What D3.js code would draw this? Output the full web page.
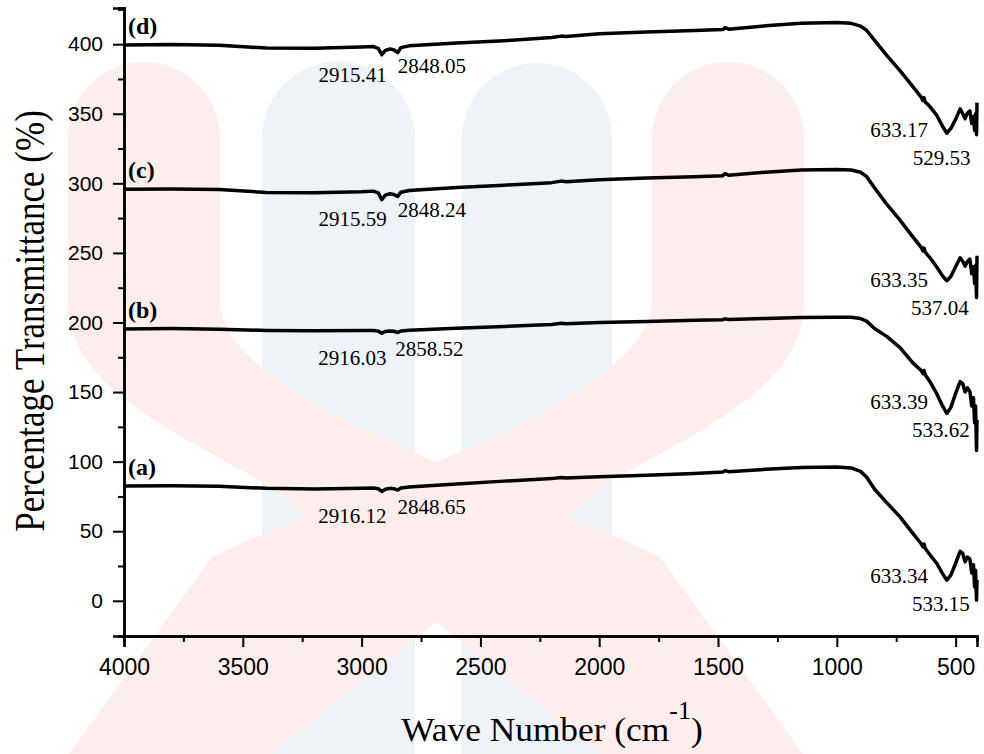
<!DOCTYPE html>
<html>
<head>
<meta charset="utf-8">
<script src="https://cdn.jsdelivr.net/npm/d3@7/dist/d3.min.js"></script>
<style>
  html, body { margin: 0; padding: 0; background: #fff; }
  svg { display: block; }
</style>
</head>
<body>
<script>
// wave numbers (cm-1) shared by all four spectra
let wavenumbers = [4000, 3800, 3600, 3400, 3200, 3000, 2950, 2930, 2915, 2900, 2880, 2865, 2848, 2835, 2800,
  2600, 2400, 2200, 2160, 2140, 2000, 1800, 1600, 1480, 1470, 1455, 1300, 1150, 1000, 940, 900, 875, 840,
  790, 734, 680, 645, 637, 633, 628, 610, 580, 555, 537, 520, 500, 481, 470, 460, 450, 440, 432, 425, 420,
  416, 412, 410];

let series_a = [82.5, 82.7, 82.3, 80.8, 80.4, 80.8, 81.0, 80.5, 78.6, 80.2, 80.8, 80.6, 79.6, 81.0, 81.8,
  84.0, 86.0, 87.8, 88.6, 88.3, 89.2, 90.3, 91.5, 92.5, 93.5, 92.8, 94.5, 95.8, 96.2, 95.5, 93.0, 89.0, 80.0,
  70.5, 60.3, 48.5, 41.0, 38.7, 40.8, 37.8, 33.5, 27.0, 19.5, 14.8, 18.5, 27.0, 35.5, 34.0, 28.0, 31.5, 30.0,
  20.0, 26.0, 10.0, 22.0, 0.5, 15.0];

let series_b = [195.4, 195.6, 195.2, 194.3, 194.0, 194.2, 194.3, 193.8, 192.3, 193.6, 193.9, 193.7, 192.8,
  193.9, 194.5, 195.9, 197.2, 198.6, 199.4, 199.1, 200.0, 200.7, 201.6, 202.0, 202.6, 202.1, 202.9, 203.5,
  203.8, 203.7, 202.8, 201.0, 195.5, 190.0, 182.0, 171.0, 165.5, 163.3, 165.5, 162.5, 158.0, 149.0, 140.0,
  134.6, 139.0, 149.0, 157.5, 156.0, 150.0, 153.0, 150.5, 140.0, 146.0, 128.0, 140.0, 108.0, 130.0];

let series_c = [295.8, 296.0, 295.5, 293.5, 293.2, 294.0, 294.4, 293.2, 288.3, 291.5, 292.5, 292.0, 290.5,
  293.6, 294.8, 297.0, 298.7, 300.5, 301.6, 301.2, 302.5, 303.8, 304.8, 305.5, 307.0, 305.8, 308.0, 309.5,
  310.0, 309.6, 308.0, 305.0, 296.5, 285.0, 273.5, 261.5, 254.0, 251.5, 253.5, 250.5, 247.0, 240.0, 233.5,
  230.0, 233.0, 240.0, 246.5, 244.0, 240.5, 244.0, 245.5, 235.0, 240.0, 228.0, 241.0, 218.0, 248.0];

let series_d = [399.5, 399.8, 399.2, 397.2, 397.0, 398.0, 398.3, 397.0, 392.5, 395.5, 396.5, 396.0, 394.0,
  397.5, 398.8, 400.8, 402.5, 404.8, 405.8, 405.5, 407.5, 408.8, 409.8, 410.5, 412.0, 410.8, 413.2, 415.0,
  415.6, 415.0, 413.0, 410.0, 402.5, 392.0, 381.0, 369.5, 362.0, 359.5, 361.5, 358.5, 355.5, 349.0, 341.0,
  336.0, 339.5, 346.0, 353.5, 350.0, 346.5, 350.5, 352.0, 343.0, 348.0, 338.0, 350.0, 335.0, 358.0];

let curve_names = ["(a)", "(b)", "(c)", "(d)"];
let peak_labels = [
  ["2916.12", "2848.65", "633.34", "533.15"],
  ["2916.03", "2858.52", "633.39", "533.62"],
  ["2915.59", "2848.24", "633.35", "537.04"],
  ["2915.41", "2848.05", "633.17", "529.53"]
];

let x_ticks = [4000, 3500, 3000, 2500, 2000, 1500, 1000, 500];
let x_minor = [3750, 3250, 2750, 2250, 1750, 1250, 750];
let y_ticks = [0, 50, 100, 150, 200, 250, 300, 350, 400];
let y_minor = [-25, 25, 75, 125, 175, 225, 275, 325, 375, 425];

let width = 984;
let height = 754;
let all_series = [series_a, series_b, series_c, series_d];

let xscale = d3.scaleLinear().domain([4000, 410]).range([124, 977]);
let yscale = d3.scaleLinear().domain([-25.3, 426]).range([636, 8]);

let svg = d3.select("body").append("svg").attr("width", width).attr("height", height);

// faint watermark behind the chart
let wm = svg.append("g");
let blue = "#eef3f8", pink = "#fdeeee";
wm.append("path").attr("fill", blue)
  .attr("d", "M262,754 L262,138 A76.5,76.5 0 0 1 415,138 L415,754 Z");
wm.append("path").attr("fill", blue)
  .attr("d", "M462,754 L462,138 A75,75 0 0 1 612,138 L612,754 Z");
wm.append("path").attr("fill", pink)
  .attr("d", "M68,138 A76,76 0 0 1 220,138 L220,300 C220,400 500,480 660,557 L803,754 L600,754 L260,480 C150,420 68,380 68,300 Z");
wm.append("path").attr("fill", pink)
  .attr("d", "M804,138 A76,76 0 0 0 652,138 L652,300 C652,400 372,480 212,557 L69,754 L272,754 L612,480 C722,420 804,380 804,300 Z");

// axes
let y_axis = svg.append("g").attr("transform", "translate(124,0)")
  .call(d3.axisLeft(yscale).tickValues(y_ticks).tickSize(11).tickPadding(10).tickFormat(d3.format("d")));
svg.append("g").attr("transform", "translate(124,0)")
  .call(d3.axisLeft(yscale).tickValues(y_minor).tickSize(6).tickFormat(""));

let x_axis = svg.append("g").attr("transform", "translate(0,636)")
  .call(d3.axisBottom(xscale).tickValues(x_ticks).tickSize(11).tickPadding(12).tickFormat(d3.format("d")));
svg.append("g").attr("transform", "translate(0,636)")
  .call(d3.axisBottom(xscale).tickValues(x_minor).tickSize(6).tickFormat(""));

svg.selectAll(".domain").attr("stroke", "#000").attr("stroke-width", 2.5);
svg.selectAll(".tick line").attr("stroke", "#000").attr("stroke-width", 2);
y_axis.selectAll("text").attr("font-family", "'Liberation Sans', Arial, sans-serif").attr("font-size", 21).attr("fill", "#000");
x_axis.selectAll("text").attr("font-family", "'Liberation Sans', Arial, sans-serif").attr("font-size", 23).attr("fill", "#000");

// axis titles
let serif = "'Liberation Serif', 'Times New Roman', serif";
svg.append("text")
  .attr("transform", "translate(44,321) scale(1.2,1) rotate(-90)")
  .attr("text-anchor", "middle")
  .attr("font-family", serif)
  .attr("font-size", 35)
  .text("Percentage Transmittance (%)");

let xt = svg.append("text")
  .attr("transform", "translate(552,741) scale(1.04,1)")
  .attr("text-anchor", "middle")
  .attr("font-family", serif)
  .attr("font-size", 34);
xt.append("tspan").text("Wave Number (cm");
xt.append("tspan").attr("font-size", 25).attr("dy", -22).text("-1");
xt.append("tspan").attr("dy", 22).text(")");

// spectra
let line = d3.line()
  .x((d, i) => xscale(wavenumbers[i]))
  .y((d) => yscale(d));

svg.selectAll("path.spectrum").data(all_series).enter().append("path")
  .attr("class", "spectrum")
  .attr("d", (d) => line(d))
  .attr("fill", "none")
  .attr("stroke", "#000")
  .attr("stroke-width", 3.5)
  .attr("stroke-linejoin", "round");

// curve names
svg.selectAll("text.name").data(curve_names).enter().append("text")
  .attr("class", "name")
  .attr("x", 128)
  .attr("y", (d, i) => yscale(all_series[i][0]) - 11)
  .attr("font-family", serif)
  .attr("font-weight", "bold")
  .attr("font-size", 24)
  .text((d) => d);

// peak annotations
let i_base = wavenumbers.indexOf(2950);
let i_633 = wavenumbers.indexOf(633);
peak_labels.forEach((labels, i) => {
  let s = all_series[i];
  let g = svg.append("g").attr("font-family", serif).attr("font-size", 21).attr("fill", "#000");
  g.append("text").attr("text-anchor", "end")
    .attr("x", xscale(+labels[0]) + 5).attr("y", yscale(s[i_base]) + 35).text(labels[0]);
  g.append("text").attr("text-anchor", "start")
    .attr("x", xscale(+labels[1])).attr("y", yscale(s[i_base]) + 26).text(labels[1]);
  g.append("text").attr("text-anchor", "end")
    .attr("x", xscale(+labels[2]) + 4).attr("y", yscale(s[i_633]) + 39).text(labels[2]);
  g.append("text").attr("text-anchor", "end")
    .attr("x", xscale(+labels[3]) + 22).attr("y", yscale(s[i_633]) + 67).text(labels[3]);
});
</script>
</body>
</html>
